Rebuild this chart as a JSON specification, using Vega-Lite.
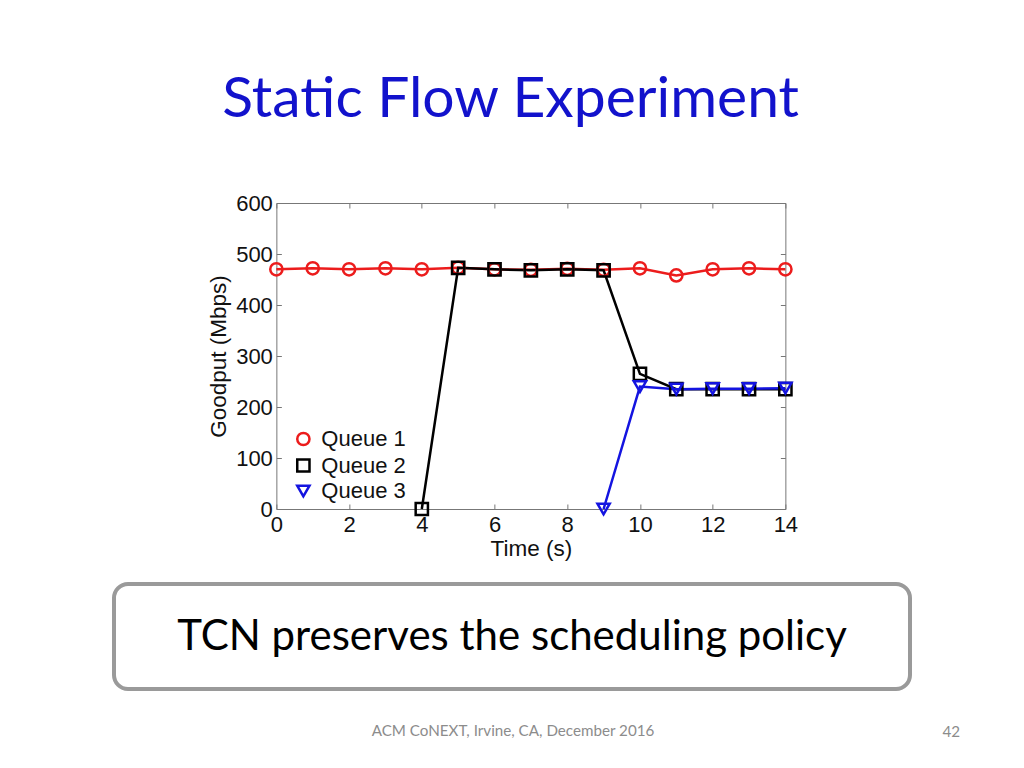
{
  "$schema": "https://vega.github.io/schema/vega-lite/v6.json",
  "background": "white",
  "padding": {"left": 112, "top": 71, "right": 0, "bottom": 0},
  "title": {"text": "ACM CoNEXT, Irvine, CA, December 2016", "orient": "bottom", "anchor": "middle", "dx": -24, "offset": -18, "font": "Lato", "fontSize": 15.2, "color": "#8c8c8c", "fontWeight": "normal"},
  "datasets": {
    "goodput": [
      {"t": 0, "goodput": 470, "queue": "Queue 1"},
      {"t": 1, "goodput": 472, "queue": "Queue 1"},
      {"t": 2, "goodput": 470, "queue": "Queue 1"},
      {"t": 3, "goodput": 472, "queue": "Queue 1"},
      {"t": 4, "goodput": 470, "queue": "Queue 1"},
      {"t": 5, "goodput": 473, "queue": "Queue 1"},
      {"t": 6, "goodput": 470, "queue": "Queue 1"},
      {"t": 7, "goodput": 469, "queue": "Queue 1"},
      {"t": 8, "goodput": 471, "queue": "Queue 1"},
      {"t": 9, "goodput": 469, "queue": "Queue 1"},
      {"t": 10, "goodput": 472, "queue": "Queue 1"},
      {"t": 11, "goodput": 458, "queue": "Queue 1"},
      {"t": 12, "goodput": 470, "queue": "Queue 1"},
      {"t": 13, "goodput": 472, "queue": "Queue 1"},
      {"t": 14, "goodput": 470, "queue": "Queue 1"},
      {"t": 4, "goodput": 0, "queue": "Queue 2"},
      {"t": 5, "goodput": 473, "queue": "Queue 2"},
      {"t": 6, "goodput": 470, "queue": "Queue 2"},
      {"t": 7, "goodput": 468, "queue": "Queue 2"},
      {"t": 8, "goodput": 470, "queue": "Queue 2"},
      {"t": 9, "goodput": 468, "queue": "Queue 2"},
      {"t": 10, "goodput": 265, "queue": "Queue 2"},
      {"t": 11, "goodput": 235, "queue": "Queue 2"},
      {"t": 12, "goodput": 235, "queue": "Queue 2"},
      {"t": 13, "goodput": 235, "queue": "Queue 2"},
      {"t": 14, "goodput": 235, "queue": "Queue 2"},
      {"t": 9, "goodput": 0, "queue": "Queue 3"},
      {"t": 10, "goodput": 240, "queue": "Queue 3"},
      {"t": 11, "goodput": 235, "queue": "Queue 3"},
      {"t": 12, "goodput": 236, "queue": "Queue 3"},
      {"t": 13, "goodput": 236, "queue": "Queue 3"},
      {"t": 14, "goodput": 237, "queue": "Queue 3"}
    ]
  },
  "center": true,
  "spacing": 22,
  "resolve": {"scale": {"color": "independent", "shape": "independent"}, "legend": {"color": "independent", "shape": "independent"}},
  "vconcat": [
    {
      "title": {"text": "Static Flow Experiment", "anchor": "middle", "frame": "bounds", "offset": 6, "dx": 8, "font": "Lato", "fontSize": 57, "fontWeight": "normal", "color": "#1212cc", "baseline": "bottom"},
      "width": 509,
      "height": 306,
      "data": {"name": "goodput"},
      "layer": [
        {
          "mark": {"type": "line", "strokeWidth": 2.5},
          "encoding": {
            "x": {"field": "t", "type": "quantitative", "scale": {"domain": [0, 14], "nice": false},
              "axis": {"title": "Time (s)", "values": [0, 2, 4, 6, 8, 10, 12, 14], "labelPadding": 10, "titlePadding": 2}},
            "y": {"field": "goodput", "type": "quantitative", "scale": {"domain": [0, 600], "nice": false},
              "axis": {"title": "Goodput (Mbps)", "values": [0, 100, 200, 300, 400, 500, 600], "labelPadding": 9, "titlePadding": 5}},
            "color": {"field": "queue", "type": "nominal", "scale": {"domain": ["Queue 1", "Queue 2", "Queue 3"], "range": ["#ec1c1c", "#000000", "#1414e0"]},
              "legend": {"orient": "bottom-left"}}
          }
        },
        {
          "mark": {"type": "point", "filled": false, "size": 150, "strokeWidth": 2.5, "opacity": 1},
          "encoding": {
            "x": {"field": "t", "type": "quantitative",
              "axis": {"orient": "top", "title": null, "labels": false, "values": [0, 2, 4, 6, 8, 10, 12, 14]}},
            "y": {"field": "goodput", "type": "quantitative",
              "axis": {"orient": "right", "title": null, "labels": false, "values": [0, 100, 200, 300, 400, 500, 600]}},
            "color": {"field": "queue", "type": "nominal", "legend": {"orient": "bottom-left"}},
            "shape": {"field": "queue", "type": "nominal", "scale": {"domain": ["Queue 1", "Queue 2", "Queue 3"], "range": ["circle", "square", "triangle-down"]},
              "legend": {"orient": "bottom-left"}}
          }
        }
      ],
      "resolve": {"axis": {"x": "independent", "y": "independent"}}
    },
    {
      "width": 796,
      "height": 105,
      "view": {"stroke": "#9a9a9a", "strokeWidth": 4, "cornerRadius": 14, "fill": "white"},
      "title": {"text": "42", "orient": "bottom", "anchor": "end", "dx": 50, "offset": 36, "font": "Lato", "fontSize": 15.2, "color": "#8c8c8c", "fontWeight": "normal"},
      "data": {"values": [{"caption": "TCN preserves the scheduling policy"}]},
      "mark": {"type": "text", "font": "Lato", "fontSize": 42, "align": "center", "baseline": "middle", "color": "#000000"},
      "encoding": {"text": {"field": "caption", "type": "nominal"}}
    }
  ],
  "config": {
    "view": {"stroke": null},
    "legend": {"title": null, "offset": 7, "padding": 0, "symbolOffset": 9, "symbolSize": 150, "symbolStrokeWidth": 2.5, "labelFont": "Liberation Sans", "labelFontSize": 22, "labelColor": "#111111", "labelOffset": 7, "rowPadding": 2.5},
    "axis": {"grid": false, "tickSize": -5, "tickColor": "#777777", "domainColor": "#777777", "tickWidth": 1, "domainWidth": 1,
      "labelFont": "Liberation Sans", "labelFontSize": 22, "labelColor": "#111111", "labelFlush": false, "labelOverlap": false,
      "titleFont": "Liberation Sans", "titleFontSize": 22.5, "titleFontWeight": "normal", "titleColor": "#111111"}
  }
}
